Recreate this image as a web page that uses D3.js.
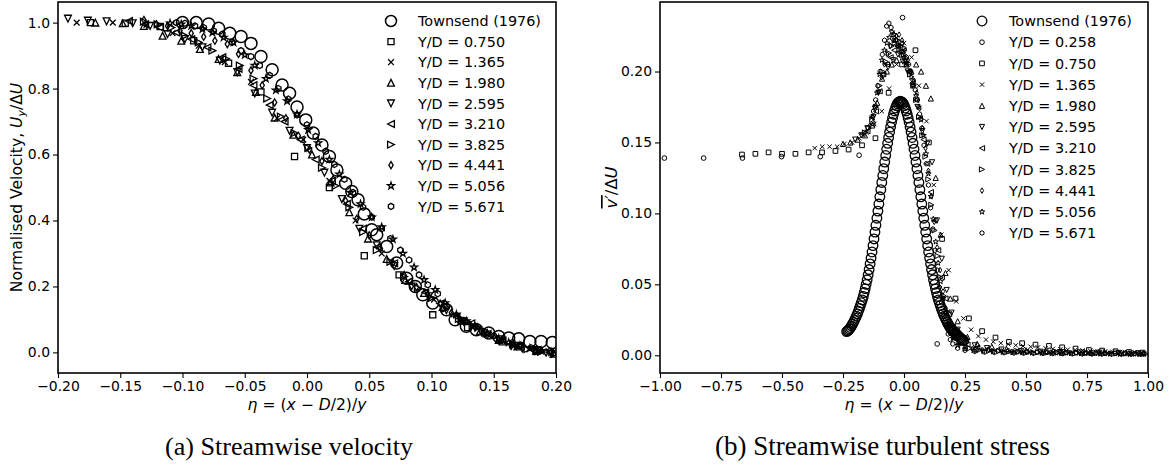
<!DOCTYPE html>
<html><head><meta charset="utf-8">
<script src="https://cdn.jsdelivr.net/npm/d3@7"></script>
<style>body{margin:0;background:#fff}svg{display:block}text{font-family:"DejaVu Sans",sans-serif;fill:#000}</style>
</head><body><svg id="c" width="1176" height="468"></svg>
<script>
// ---------------- DATA: (a) streamwise velocity ----------------
const velXTicks = [-0.20,-0.15,-0.10,-0.05,0.00,0.05,0.10,0.15,0.20];
const velXTickLabels = ["\u22120.20","\u22120.15","\u22120.10","\u22120.05","0.00","0.05","0.10","0.15","0.20"];
const velYTicks = [0.0,0.2,0.4,0.6,0.8,1.0];
const velYTickLabels = ["0.0","0.2","0.4","0.6","0.8","1.0"];
const velLegend = ["Townsend (1976)","Y/D = 0.750","Y/D = 1.365","Y/D = 1.980","Y/D = 2.595","Y/D = 3.210","Y/D = 3.825","Y/D = 4.441","Y/D = 5.056","Y/D = 5.671"];

const velTownsendEta = [-0.100,-0.089,-0.079,-0.071,-0.062,-0.053,-0.045,-0.037,-0.028,-0.020,-0.014,-0.008,-0.001,0.005,0.012,0.018,0.024,0.031,0.036,0.041,0.046,0.052,0.056,0.064,0.072,0.080,0.087,0.093,0.101,0.112,0.119,0.128,0.136,0.146,0.154,0.162,0.170,0.179,0.188,0.197];
const velTownsendU = [1.000,1.000,0.996,0.983,0.968,0.958,0.937,0.897,0.857,0.811,0.786,0.744,0.705,0.665,0.629,0.594,0.553,0.513,0.488,0.463,0.420,0.372,0.357,0.321,0.271,0.225,0.200,0.175,0.150,0.129,0.099,0.079,0.069,0.059,0.048,0.044,0.041,0.033,0.033,0.030];

const velEta0750 = [-0.174,-0.146,-0.118,-0.091,-0.063,-0.037,-0.010,0.018,0.046,0.074,0.101,0.129,0.157,0.185];
const velU0750 = [1.000,0.998,0.988,0.945,0.877,0.790,0.594,0.500,0.293,0.235,0.114,0.075,0.032,0.008];
const velEta1365 = [-0.185,-0.156,-0.129,-0.108,-0.087,-0.066,-0.045,-0.024,-0.003,0.018,0.039,0.060,0.081,0.102,0.123,0.144,0.165,0.186];
const velU1365 = [1.000,1.000,0.993,0.968,0.930,0.880,0.820,0.710,0.645,0.520,0.400,0.300,0.215,0.160,0.098,0.057,0.022,0.004];
const velEta1980 = [-0.170,-0.148,-0.131,-0.116,-0.101,-0.086,-0.071,-0.056,-0.041,-0.026,-0.011,0.004,0.019,0.034,0.049,0.064,0.079,0.094,0.109,0.124,0.139,0.154,0.169,0.184,0.198];
const velU1980 = [1.000,0.998,0.990,0.960,0.945,0.920,0.890,0.850,0.790,0.712,0.660,0.600,0.515,0.425,0.345,0.283,0.220,0.180,0.138,0.096,0.065,0.038,0.018,0.004,-0.004];
const velEta2595 = [-0.192,-0.176,-0.161,-0.140,-0.126,-0.112,-0.098,-0.084,-0.070,-0.056,-0.042,-0.028,-0.014,0.000,0.014,0.028,0.042,0.056,0.070,0.084,0.098,0.112,0.126,0.140,0.154,0.168,0.182,0.196];
const velU2595 = [1.012,1.006,1.004,0.998,0.990,0.965,0.950,0.925,0.885,0.850,0.785,0.727,0.672,0.620,0.545,0.465,0.375,0.325,0.262,0.200,0.170,0.128,0.094,0.061,0.040,0.020,0.006,-0.004];
const velEta3210 = [-0.143,-0.130,-0.118,-0.105,-0.093,-0.080,-0.068,-0.055,-0.043,-0.030,-0.018,-0.005,0.007,0.020,0.032,0.045,0.057,0.070,0.082,0.095,0.107,0.120,0.132,0.145,0.157,0.170,0.182,0.195];
const velU3210 = [1.005,0.995,0.985,0.970,0.950,0.925,0.895,0.860,0.810,0.750,0.700,0.645,0.585,0.520,0.450,0.375,0.320,0.270,0.215,0.182,0.148,0.108,0.088,0.056,0.036,0.018,0.008,0.000];
const velEta3825 = [-0.131,-0.120,-0.109,-0.098,-0.087,-0.076,-0.065,-0.054,-0.043,-0.032,-0.021,-0.010,0.001,0.012,0.023,0.034,0.045,0.056,0.067,0.078,0.089,0.100,0.111,0.122,0.133,0.144,0.155,0.166,0.177,0.188,0.199];
const velU3825 = [1.003,0.995,0.985,0.960,0.940,0.915,0.890,0.870,0.830,0.770,0.715,0.665,0.620,0.560,0.505,0.440,0.365,0.310,0.275,0.230,0.195,0.165,0.132,0.102,0.080,0.058,0.040,0.022,0.010,0.002,-0.004];
const velEta4441 = [-0.131,-0.121,-0.112,-0.102,-0.093,-0.083,-0.074,-0.064,-0.055,-0.045,-0.036,-0.026,-0.017,-0.007,0.002,0.012,0.021,0.031,0.040,0.050,0.059,0.069,0.078,0.088,0.097,0.107,0.116,0.126,0.135,0.145,0.154,0.164,0.173,0.183,0.192];
const velU4441 = [1.008,0.995,0.990,0.975,0.968,0.957,0.945,0.935,0.905,0.855,0.810,0.758,0.710,0.657,0.615,0.580,0.525,0.460,0.405,0.355,0.315,0.272,0.235,0.198,0.175,0.148,0.120,0.095,0.076,0.054,0.036,0.020,0.012,0.004,0.000];
const velEta5056 = [-0.110,-0.101,-0.093,-0.084,-0.076,-0.067,-0.059,-0.050,-0.042,-0.033,-0.025,-0.016,-0.008,0.001,0.009,0.018,0.026,0.035,0.043,0.052,0.060,0.069,0.077,0.086,0.094,0.103,0.111,0.120,0.128,0.137,0.145,0.154,0.162,0.171,0.179,0.188,0.196];
const velU5056 = [0.998,0.995,0.990,0.980,0.970,0.955,0.940,0.902,0.870,0.830,0.795,0.762,0.722,0.675,0.635,0.585,0.540,0.485,0.450,0.410,0.380,0.343,0.300,0.258,0.220,0.190,0.150,0.115,0.095,0.075,0.057,0.042,0.030,0.020,0.012,0.005,0.001];
const velEta5671 = [-0.105,-0.098,-0.090,-0.083,-0.075,-0.068,-0.060,-0.053,-0.045,-0.038,-0.030,-0.023,-0.015,-0.008,0.000,0.007,0.015,0.022,0.030,0.037,0.045,0.052,0.060,0.067,0.075,0.082,0.090,0.097,0.105,0.112,0.120,0.127,0.135,0.142,0.150,0.157,0.165,0.172,0.180,0.187,0.195];
const velU5671 = [1.000,0.998,0.990,0.985,0.975,0.965,0.940,0.915,0.897,0.870,0.840,0.800,0.768,0.720,0.690,0.655,0.610,0.570,0.525,0.485,0.440,0.410,0.375,0.345,0.310,0.280,0.235,0.205,0.178,0.140,0.112,0.095,0.080,0.064,0.050,0.038,0.030,0.022,0.014,0.008,0.003];

// ---------------- DATA: (b) streamwise turbulent stress ----------------
const strXTicks = [-1.00,-0.75,-0.50,-0.25,0.00,0.25,0.50,0.75,1.00];
const strXTickLabels = ["\u22121.00","\u22120.75","\u22120.50","\u22120.25","0.00","0.25","0.50","0.75","1.00"];
const strYTicks = [0.00,0.05,0.10,0.15,0.20];
const strYTickLabels = ["0.00","0.05","0.10","0.15","0.20"];
const strLegend = ["Townsend (1976)","Y/D = 0.258","Y/D = 0.750","Y/D = 1.365","Y/D = 1.980","Y/D = 2.595","Y/D = 3.210","Y/D = 3.825","Y/D = 4.441","Y/D = 5.056","Y/D = 5.671"];

const strTownsendEta = [-0.235,-0.231,-0.227,-0.223,-0.219,-0.215,-0.211,-0.207,-0.203,-0.199,
-0.195,-0.191,-0.187,-0.183,-0.179,-0.175,-0.171,-0.167,-0.163,-0.159,
-0.155,-0.151,-0.147,-0.143,-0.139,-0.135,-0.131,-0.127,-0.123,-0.119,
-0.115,-0.111,-0.107,-0.103,-0.099,-0.095,-0.091,-0.087,-0.083,-0.079,
-0.075,-0.071,-0.067,-0.063,-0.059,-0.055,-0.051,-0.047,-0.043,-0.039,
-0.035,-0.031,-0.027,-0.023,-0.019,-0.015,
-0.011,-0.007,-0.003,0.001,0.005,0.009,0.013,0.017,0.021,0.025,
0.029,0.033,0.037,0.041,0.045,0.049,0.053,0.057,0.061,0.065,
0.069,0.073,0.077,0.081,0.085,0.089,0.093,0.097,0.101,0.105,
0.109,0.113,0.117,0.121,0.125,0.129,0.133,0.137,0.141,0.145,
0.149,0.153,0.157,0.161,0.165,0.169,0.173,0.177,0.181,0.185,
0.189,0.193,0.197,0.201,0.205,0.209,0.213,0.217,0.221,0.225,
0.229,0.233,0.237,0.241,0.245];
const strTownsendV = [0.0167,0.0172,0.0178,0.0186,0.0196,0.0207,0.0220,0.0232,0.0246,0.0261,
0.0276,0.0292,0.0310,0.0330,0.0350,0.0370,0.0390,0.0415,0.0442,0.0470,
0.0500,0.0532,0.0567,0.0604,0.0644,0.0685,0.0728,0.0773,0.0820,0.0868,
0.0916,0.0966,0.1016,0.1066,0.1117,0.1167,0.1218,0.1267,0.1315,0.1362,
0.1408,0.1452,0.1494,0.1535,0.1573,0.1609,0.1642,0.1672,0.1699,0.1722,
0.1743,0.1760,0.1773,0.1782,0.1788,0.1790,
0.1788,0.1782,0.1773,0.1760,0.1743,0.1722,0.1699,0.1672,0.1642,0.1609,
0.1573,0.1535,0.1494,0.1452,0.1408,0.1362,0.1315,0.1267,0.1218,0.1167,
0.1117,0.1066,0.1016,0.0966,0.0916,0.0868,0.0820,0.0773,0.0728,0.0685,
0.0644,0.0604,0.0567,0.0532,0.0500,0.0470,0.0442,0.0415,0.0390,0.0370,
0.0350,0.0330,0.0310,0.0292,0.0276,0.0261,0.0246,0.0232,0.0220,0.0207,
0.0196,0.0186,0.0178,0.0172,0.0167,0.0160,0.0152,0.0145,0.0138,0.0131,
0.0125,0.0119,0.0113,0.0108,0.0103];

const strEta0258 = [-0.982,-0.821,-0.662,-0.502,-0.343,-0.184,-0.006,0.136,0.296,0.455,0.615,0.775,0.935];
const strV0258 = [0.139,0.139,0.139,0.140,0.140,0.141,0.238,0.008,0.004,0.003,0.0025,0.002,0.0015];
const strEta0750 = [-0.664,-0.609,-0.555,-0.500,-0.445,-0.391,-0.336,-0.281,-0.227,-0.172,-0.117,-0.063,-0.008,0.047,0.102,0.156,0.211,0.266,0.320,0.375,0.430,0.484,0.539,0.594,0.648,0.703,0.758,0.812,0.867,0.922,0.977];
const strV0750 = [0.1415,0.142,0.143,0.142,0.142,0.143,0.143,0.144,0.145,0.148,0.153,0.185,0.205,0.215,0.150,0.082,0.040,0.026,0.017,0.0125,0.0094,0.0085,0.0075,0.0066,0.0056,0.0047,0.0037,0.0033,0.0028,0.0023,0.0019];
const strEta1365 = [-0.366,-0.335,-0.305,-0.274,-0.244,-0.213,-0.183,-0.152,-0.122,-0.091,-0.061,-0.030,0.000,0.031,0.061,0.092,0.122,0.153,0.183,0.214,0.244,0.275,0.305,0.336,0.366,0.397,0.427,0.458,0.488,0.519,0.549,0.580,0.610,0.641,0.671,0.702,0.732,0.763,0.793,0.824,0.854,0.885,0.915,0.946,0.976];
const strV1365 = [0.146,0.147,0.147,0.147,0.149,0.150,0.153,0.157,0.163,0.172,0.188,0.205,0.220,0.210,0.190,0.165,0.120,0.085,0.060,0.038,0.026,0.018,0.0135,0.011,0.0095,0.0085,0.0078,0.007,0.0065,0.006,0.0055,0.005,0.0045,0.0042,0.004,0.0037,0.0034,0.0031,0.0029,0.0027,0.0025,0.0023,0.0021,0.0019,0.0017];
const strEta1980 = [-0.25,-0.22,-0.19,-0.16,-0.13,-0.11,-0.09,-0.07,-0.05,-0.03,-0.01,0.01,0.03,0.05,0.07,0.09,0.11,0.13,0.15,0.17,0.19,0.22,0.26,0.30,0.36,0.42,0.50,0.58,0.66,0.74,0.82,0.90,0.98];
const strV1980 = [0.149,0.150,0.152,0.155,0.162,0.178,0.195,0.200,0.205,0.208,0.212,0.205,0.200,0.205,0.200,0.190,0.181,0.125,0.085,0.058,0.040,0.024,0.013,0.008,0.006,0.0045,0.0035,0.003,0.0025,0.0022,0.002,0.0018,0.0015];
const strEta2595 = [-0.200,-0.175,-0.150,-0.125,-0.105,-0.085,-0.065,-0.045,-0.025,-0.005,0.015,0.035,0.055,0.075,0.095,0.115,0.135,0.155,0.175,0.195,0.22,0.25,0.29,0.34,0.40,0.48,0.56,0.64,0.72,0.80,0.88,0.96];
const strV2595 = [0.152,0.155,0.160,0.168,0.185,0.197,0.203,0.208,0.212,0.207,0.200,0.190,0.175,0.158,0.149,0.136,0.095,0.068,0.046,0.030,0.018,0.011,0.007,0.005,0.004,0.003,0.0025,0.0022,0.002,0.0018,0.0016,0.0014];
const strEta3210 = [-0.170,-0.150,-0.130,-0.115,-0.100,-0.085,-0.070,-0.055,-0.040,-0.025,-0.010,0.005,0.020,0.035,0.050,0.065,0.080,0.095,0.110,0.125,0.140,0.155,0.170,0.185,0.200,
0.22,0.26,0.30,0.34,0.38,0.42,0.46,0.50,0.54,0.58,0.62,0.66,0.70,0.74,0.78,0.82,0.86,0.90,0.94,0.98];
const strV3210 = [0.156,0.158,0.163,0.172,0.186,0.198,0.205,0.210,0.215,0.218,0.214,0.208,0.200,0.192,0.180,0.167,0.152,0.135,0.115,0.095,0.074,0.055,0.040,0.029,0.020,
0.013,0.0075,0.0055,0.0042,0.0035,0.003,0.0027,0.0025,0.0023,0.0021,0.002,0.0019,0.0018,0.0017,0.0016,0.0015,0.0014,0.0013,0.0012,0.0011];
const strEta3825 = [-0.160,-0.145,-0.130,-0.115,-0.100,-0.088,-0.075,-0.062,-0.050,-0.038,-0.025,-0.012,0.000,0.012,0.025,0.038,0.050,0.062,0.075,0.088,0.100,0.112,0.125,0.138,0.150,0.162,0.175,0.190,0.210,
0.235,0.27,0.31,0.35,0.39,0.43,0.47,0.51,0.55,0.59,0.63,0.67,0.71,0.75,0.79,0.83,0.87,0.91,0.95,0.99];
const strV3825 = [0.157,0.160,0.166,0.175,0.190,0.200,0.207,0.213,0.218,0.220,0.222,0.218,0.212,0.205,0.198,0.190,0.180,0.168,0.155,0.140,0.124,0.106,0.088,0.070,0.055,0.042,0.031,0.021,0.013,
0.008,0.005,0.0038,0.0032,0.0029,0.0026,0.0024,0.0022,0.0021,0.002,0.0019,0.0018,0.0017,0.0016,0.0015,0.0014,0.0013,0.0012,0.0011,0.001];
const strEta4441 = [-0.140,-0.128,-0.116,-0.104,-0.092,-0.080,-0.068,-0.056,-0.044,-0.032,-0.020,-0.008,0.004,0.016,0.028,0.040,0.052,0.064,0.076,0.088,0.100,0.112,0.124,0.136,0.148,0.160,0.172,0.184,0.200,
0.22,0.25,0.28,0.32,0.36,0.40,0.44,0.48,0.52,0.56,0.60,0.64,0.68,0.72,0.76,0.80,0.84,0.88,0.92,0.96];
const strV4441 = [0.162,0.168,0.176,0.186,0.196,0.205,0.212,0.218,0.222,0.225,0.226,0.222,0.215,0.208,0.200,0.193,0.185,0.174,0.160,0.146,0.130,0.112,0.094,0.076,0.060,0.045,0.033,0.024,0.015,
0.009,0.006,0.0045,0.0037,0.0031,0.0028,0.0025,0.0023,0.0022,0.002,0.0019,0.0018,0.0017,0.0016,0.0015,0.0014,0.0013,0.0012,0.0011,0.001];
const strEta5056 = [-0.13,-0.12,-0.11,-0.10,-0.09,-0.08,-0.07,-0.06,-0.05,-0.04,-0.03,-0.02,-0.01,0.00,0.01,0.02,0.03,0.04,0.05,0.06,0.07,0.08,0.09,0.10,0.11,0.12,0.13,0.14,0.15,0.16,0.17,0.18,0.19,0.20,
0.22,0.25,0.285,0.325,0.365,0.405,0.445,0.485,0.525,0.565,0.605,0.645,0.685,0.725,0.765,0.805,0.845,0.885,0.925,0.965];
const strV5056 = [0.168,0.175,0.185,0.198,0.208,0.215,0.220,0.224,0.228,0.226,0.222,0.218,0.214,0.210,0.206,0.200,0.196,0.190,0.183,0.175,0.166,0.155,0.142,0.128,0.112,0.096,0.080,0.065,0.052,0.040,0.030,0.022,0.016,0.012,
0.007,0.0045,0.0033,0.0028,0.0025,0.0022,0.002,0.0018,0.0017,0.0016,0.0015,0.0014,0.0013,0.0012,0.0011,0.001,0.001,0.0009,0.0009,0.0008];
const strEta5671 = [-0.125,-0.116,-0.107,-0.098,-0.089,-0.080,-0.071,-0.062,-0.053,-0.044,-0.035,-0.026,-0.017,-0.008,0.001,0.010,0.019,0.028,0.037,0.046,0.055,0.064,0.073,0.082,0.091,0.100,0.109,0.118,0.127,0.136,0.145,0.154,0.163,0.172,0.181,0.190,0.20,
0.22,0.25,0.29,0.33,0.37,0.41,0.45,0.49,0.53,0.57,0.61,0.65,0.69,0.73,0.77,0.81,0.85,0.89,0.93,0.97];
const strV5671 = [0.172,0.180,0.190,0.200,0.212,0.222,0.232,0.234,0.231,0.226,0.222,0.218,0.214,0.220,0.216,0.210,0.205,0.200,0.194,0.187,0.180,0.170,0.160,0.148,0.135,0.120,0.104,0.089,0.074,0.060,0.048,0.037,0.028,0.021,0.015,0.011,0.008,
0.005,0.0035,0.0027,0.0022,0.002,0.0018,0.0016,0.0015,0.0014,0.0013,0.0012,0.0011,0.001,0.001,0.0009,0.0009,0.0008,0.0008,0.0007,0.0007];

// ---------------- RENDERING ----------------
const svg = d3.select('#c');

function fitSize(sample, target, family) {
  const t = svg.append('text').attr('font-size', 20).style('font-family', family || '"DejaVu Sans", sans-serif').text(sample);
  const w = t.node().getComputedTextLength();
  t.remove();
  return 20 * target / w;
}
const TICK_FS = fitSize('\u22120.20', 42.7);
const LEG_FS = fitSize('Townsend (1976)', 123);
const LAB_FS = fitSize('Normalised Velocity, U/\u0394U', 203);

function markerPath(type, h) {
  switch (type) {
    case 'o': return `M${h},0A${h},${h} 0 1,1 ${-h},0A${h},${h} 0 1,1 ${h},0Z`;
    case 's': return `M${-h},${-h}H${h}V${h}H${-h}Z`;
    case 'x': return `M${-h},${-h}L${h},${h}M${-h},${h}L${h},${-h}`;
    case '^': return `M0,${-h}L${h},${h}L${-h},${h}Z`;
    case 'v': return `M0,${h}L${h},${-h}L${-h},${-h}Z`;
    case '<': return `M${-h},0L${h},${-h}L${h},${h}Z`;
    case '>': return `M${h},0L${-h},${-h}L${-h},${h}Z`;
    case 'd': return `M0,${-h}L${0.6*h},0L0,${h}L${-0.6*h},0Z`;
    case '*': {
      const pts = d3.range(10).map(i => {
        const r = i % 2 === 0 ? h : h * 0.382;
        const a = -Math.PI / 2 + i * Math.PI / 5;
        return [r * Math.cos(a), r * Math.sin(a)];
      });
      return 'M' + pts.map(p => p[0].toFixed(2) + ',' + p[1].toFixed(2)).join('L') + 'Z';
    }
    case 'h': {
      const pts = d3.range(6).map(i => {
        const a = -Math.PI / 2 + i * Math.PI / 3;
        return [h * Math.cos(a), h * Math.sin(a)];
      });
      return 'M' + pts.map(p => p[0].toFixed(2) + ',' + p[1].toFixed(2)).join('L') + 'Z';
    }
  }
}

function drawPanel(p) {
  const x = d3.scaleLinear().domain(p.xDomain).range([p.left, p.right]);
  const y = d3.scaleLinear().domain(p.yDomain).range([p.bottom, p.top]);
  const g = svg.append('g');
  const clipId = 'clip' + p.id;
  svg.append('defs').append('clipPath').attr('id', clipId)
    .append('rect').attr('x', p.left).attr('y', p.top)
    .attr('width', p.right - p.left).attr('height', p.bottom - p.top);
  const plot = g.append('g').attr('clip-path', `url(#${clipId})`);

  p.series.forEach(s => {
    const n = Math.min(s.eta.length, s.val.length);
    const pts = d3.range(n).map(i => [s.eta[i], s.val[i]]);
    plot.append('g').selectAll('path').data(pts).join('path')
      .attr('transform', d => `translate(${x(d[0])},${y(d[1])})`)
      .attr('d', markerPath(s.marker, s.size))
      .attr('fill', 'none').attr('stroke', '#000').attr('stroke-width', s.sw);
  });

  const xa = g.append('g').attr('transform', `translate(0,${p.bottom})`)
    .call(d3.axisBottom(x).tickValues(p.xTicks).tickFormat((d, i) => p.xTickLabels[i]).tickSize(5).tickPadding(3));
  const ya = g.append('g').attr('transform', `translate(${p.left},0)`)
    .call(d3.axisLeft(y).tickValues(p.yTicks).tickFormat((d, i) => p.yTickLabels[i]).tickSize(5).tickPadding(3));
  [xa, ya].forEach(a => {
    a.select('.domain').remove();
    a.attr('font-size', TICK_FS).attr('font-family', 'DejaVu Sans');
    a.selectAll('line').attr('stroke', '#000').attr('stroke-width', 1.1);
    a.selectAll('text').attr('fill', '#000');
  });

  g.append('rect').attr('x', p.left).attr('y', p.top)
    .attr('width', p.right - p.left).attr('height', p.bottom - p.top)
    .attr('fill', 'none').attr('stroke', '#000').attr('stroke-width', 1.6);

  const lg = g.append('g');
  p.series.forEach((s, i) => {
    const cy = p.legY0 + i * p.legStep;
    lg.append('path').attr('transform', `translate(${p.legMx},${cy})`)
      .attr('d', markerPath(s.marker, s.legSize || s.size))
      .attr('fill', 'none').attr('stroke', '#000').attr('stroke-width', s.sw);
    lg.append('text').attr('x', p.legTx).attr('y', cy).attr('dy', '0.36em')
      .attr('font-size', LEG_FS).text(p.legend[i]);
  });

  const xl = g.append('text').attr('x', (p.left + p.right) / 2).attr('y', 410)
    .attr('text-anchor', 'middle').attr('font-size', LAB_FS);
  xl.append('tspan').attr('font-style', 'italic').text('\u03b7');
  xl.append('tspan').text(' = (');
  xl.append('tspan').attr('font-style', 'italic').text('x');
  xl.append('tspan').text(' \u2212 ');
  xl.append('tspan').attr('font-style', 'italic').text('D');
  xl.append('tspan').text('/2)/');
  xl.append('tspan').attr('font-style', 'italic').text('y');

  const cap = g.append('text').attr('x', p.capX).attr('y', 455).attr('text-anchor', 'middle')
    .attr('font-size', 20).style('font-family', '"Liberation Serif", serif').text(p.caption);
  const w = cap.node().getComputedTextLength();
  cap.attr('font-size', 20 * p.capW / w);
  return { x, y, g };
}

const L = 3.4, R = 2.6;
const p1 = drawPanel({
  id: 'a', left: 58, right: 556, top: 2, bottom: 373,
  xDomain: [-0.2, 0.2], yDomain: [-0.0625, 1.0625],
  xTicks: velXTicks, xTickLabels: velXTickLabels, yTicks: velYTicks, yTickLabels: velYTickLabels,
  legend: velLegend, legY0: 21, legStep: 20.6, legMx: 391, legTx: 418,
  caption: '(a) Streamwise velocity', capX: 289, capW: 248,
  series: [
    { eta: velTownsendEta, val: velTownsendU, marker: 'o', size: 6, legSize: 5.5, sw: 1.5 },
    { eta: velEta0750, val: velU0750, marker: 's', size: L * 0.9, sw: 1.3 },
    { eta: velEta1365, val: velU1365, marker: 'x', size: L * 0.85, sw: 1.3 },
    { eta: velEta1980, val: velU1980, marker: '^', size: L, sw: 1.3 },
    { eta: velEta2595, val: velU2595, marker: 'v', size: L, sw: 1.3 },
    { eta: velEta3210, val: velU3210, marker: '<', size: L, sw: 1.3 },
    { eta: velEta3825, val: velU3825, marker: '>', size: L, sw: 1.3 },
    { eta: velEta4441, val: velU4441, marker: 'd', size: L * 1.05, sw: 1.3 },
    { eta: velEta5056, val: velU5056, marker: '*', size: L * 1.05, sw: 1.3 },
    { eta: velEta5671, val: velU5671, marker: 'h', size: L * 0.9, sw: 1.3 }
  ]
});
{
  const t = p1.g.append('text').attr('transform', 'translate(21.5,187.5) rotate(-90)')
    .attr('text-anchor', 'middle').attr('font-size', LAB_FS);
  t.append('tspan').text('Normalised Velocity, ');
  t.append('tspan').attr('font-style', 'italic').text('U');
  t.append('tspan').attr('font-style', 'italic').attr('font-size', LAB_FS * 0.7).attr('dy', 3).text('y');
  t.append('tspan').attr('dy', -3).text('/\u0394');
  t.append('tspan').attr('font-style', 'italic').text('U');
}

const p2 = drawPanel({
  id: 'b', left: 660, right: 1148, top: 2, bottom: 373,
  xDomain: [-1, 1], yDomain: [-0.0125, 0.249],
  xTicks: strXTicks, xTickLabels: strXTickLabels, yTicks: strYTicks, yTickLabels: strYTickLabels,
  legend: strLegend, legY0: 21, legStep: 21.2, legMx: 982, legTx: 1009,
  caption: '(b) Streamwise turbulent stress', capX: 882.5, capW: 335,
  series: [
    { eta: strTownsendEta, val: strTownsendV, marker: 'o', size: 4.8, sw: 1.3 },
    { eta: strEta0258, val: strV0258, marker: 'o', size: R * 0.9, sw: 1.0 },
    { eta: strEta0750, val: strV0750, marker: 's', size: R * 0.9, sw: 1.0 },
    { eta: strEta1365, val: strV1365, marker: 'x', size: R * 0.85, sw: 1.0 },
    { eta: strEta1980, val: strV1980, marker: '^', size: R, sw: 1.0 },
    { eta: strEta2595, val: strV2595, marker: 'v', size: R, sw: 1.0 },
    { eta: strEta3210, val: strV3210, marker: '<', size: R, sw: 1.0 },
    { eta: strEta3825, val: strV3825, marker: '>', size: R, sw: 1.0 },
    { eta: strEta4441, val: strV4441, marker: 'd', size: R * 1.05, sw: 1.0 },
    { eta: strEta5056, val: strV5056, marker: '*', size: R * 1.1, sw: 1.0 },
    { eta: strEta5671, val: strV5671, marker: 'h', size: R * 0.9, sw: 1.0 }
  ]
});
{
  const t = p2.g.append('text').attr('transform', 'translate(617,187.5) rotate(-90)')
    .attr('text-anchor', 'middle').attr('font-size', LAB_FS * 1.05);
  t.append('tspan').attr('font-style', 'italic').style('text-decoration', 'overline').text('v\u2032');
  t.append('tspan').text('/\u0394');
  t.append('tspan').attr('font-style', 'italic').text('U');
}
</script>
</body></html>
